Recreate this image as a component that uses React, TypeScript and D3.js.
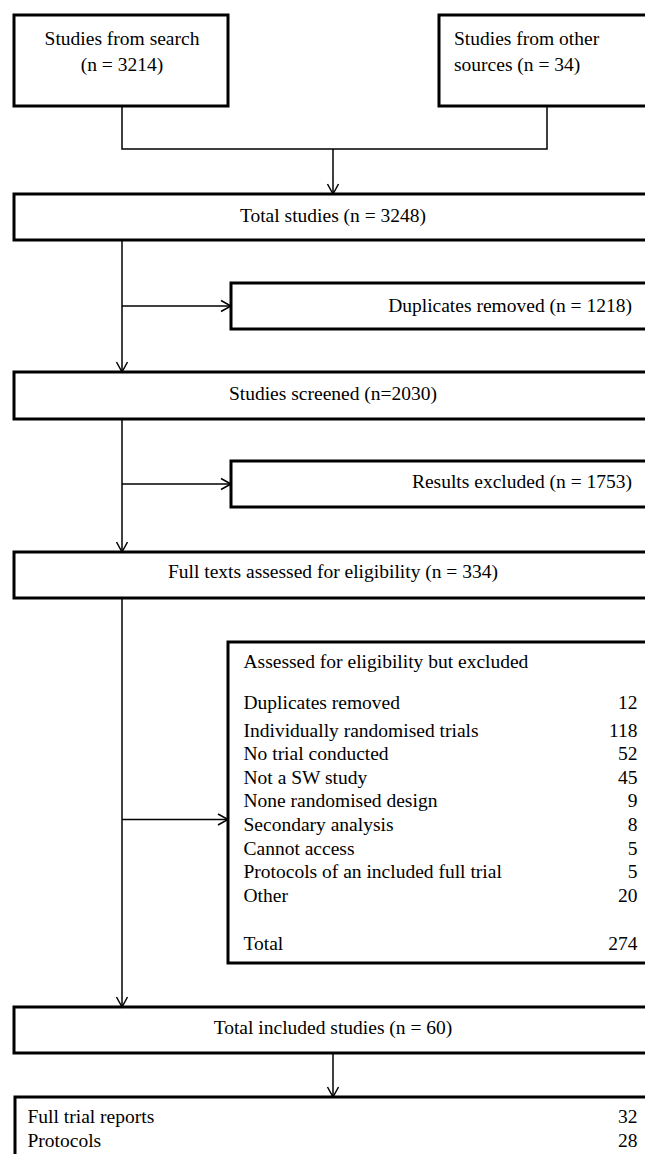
import { scaleLinear, line } from "d3";

// source boxes at the top
const sourceLines = [
  ["Studies from search", "(n = 3214)"],
  ["Studies from other", "sources (n = 34)"],
];

// full-width stage boxes, top to bottom
const stageLabels = [
  "Total studies (n = 3248)",
  "Studies screened (n=2030)",
  "Full texts assessed for eligibility (n = 334)",
  "Total included studies (n = 60)",
];

// side boxes hanging off the spine
const removedLabels = ["Duplicates removed (n = 1218)", "Results excluded (n = 1753)"];

const exclusionTitle = "Assessed for eligibility but excluded";
const exclusionReasons = [
  "Duplicates removed",
  "Individually randomised trials",
  "No trial conducted",
  "Not a SW study",
  "None randomised design",
  "Secondary analysis",
  "Cannot access",
  "Protocols of an included full trial",
  "Other",
];
const exclusionCounts = [12, 118, 52, 45, 9, 8, 5, 5, 20];
const exclusionTotal = 274;

const includedTypes = ["Full trial reports", "Protocols"];
const includedCounts = [32, 28];

const W = 645;
const H = 1154;
const FONT = "'Liberation Serif', 'Times New Roman', serif";
const FS = 19.5;

const BOX_SW = 3;
const LINE_SW = 1.5;
const LEFT = 14;
const RIGHT_OFF = 668; // boxes run past the right edge
const CX = 333;
const SPINE = 122;
const NUM_X = 637.5;

// vertical extents of stage boxes [top, bottom]
const stageY = [
  [194, 240],
  [372, 419],
  [552, 598],
  [1007, 1053],
];
const removedY = [
  [283, 329],
  [461, 507],
];

const lineGen = line<[number, number]>();

function Arrow(props: { pts: [number, number][]; dir: "down" | "right" }) {
  const { pts, dir } = props;
  const [tx, ty] = pts[pts.length - 1];
  const len = 10;
  const hw = 5.5;
  const head: [number, number][] =
    dir === "down"
      ? [[tx - hw, ty - len], [tx, ty], [tx + hw, ty - len]]
      : [[tx - len, ty - hw], [tx, ty], [tx - len, ty + hw]];
  return (
    <g fill="none" stroke="#000" strokeWidth={LINE_SW}>
      <path d={lineGen(pts) || ""} />
      <path d={lineGen(head) || ""} />
    </g>
  );
}

export default function App() {
  // rows inside the exclusion box
  const rowY = scaleLinear().domain([1, 8]).range([736.7, 901.7]);
  const exclRowY = (i: number) => (i === 0 ? 709 : rowY(i));
  const inclRowY = scaleLinear().domain([0, 1]).range([1122.7, 1146.7]);

  const stageBase = [222, 399.5, 577.5, 1033.5];
  const removedBase = [312, 487.5];

  return (
    <svg
      width={W}
      height={H}
      viewBox={`0 0 ${W} ${H}`}
      style={{ position: "absolute", left: 0, top: 0, background: "#fff" }}
      fontFamily={FONT}
      fontSize={FS}
    >
      <rect width={W} height={H} fill="#fff" />

      {/* source boxes */}
      <rect x={LEFT} y={15} width={228 - LEFT} height={91} fill="#fff" stroke="#000" strokeWidth={BOX_SW} />
      <rect x={439} y={15} width={RIGHT_OFF - 439} height={91} fill="#fff" stroke="#000" strokeWidth={BOX_SW} />
      {sourceLines[0].map((t, i) => (
        <text key={"s0" + i} x={122} y={45 + i * 26} textAnchor="middle">{t}</text>
      ))}
      {sourceLines[1].map((t, i) => (
        <text key={"s1" + i} x={454} y={45 + i * 26}>{t}</text>
      ))}

      {/* merge connector */}
      <path
        d={lineGen([[122, 106], [122, 149], [547, 149], [547, 106]]) || ""}
        fill="none"
        stroke="#000"
        strokeWidth={LINE_SW}
      />
      <Arrow pts={[[CX, 149], [CX, stageY[0][0]]]} dir="down" />

      {/* stage boxes */}
      {stageLabels.map((t, i) => (
        <g key={"st" + i}>
          <rect
            x={LEFT}
            y={stageY[i][0]}
            width={RIGHT_OFF - LEFT}
            height={stageY[i][1] - stageY[i][0]}
            fill="#fff"
            stroke="#000"
            strokeWidth={BOX_SW}
          />
          <text x={CX} y={stageBase[i]} textAnchor="middle">{t}</text>
        </g>
      ))}

      {/* spine arrows */}
      <Arrow pts={[[SPINE, stageY[0][1]], [SPINE, stageY[1][0]]]} dir="down" />
      <Arrow pts={[[SPINE, stageY[1][1]], [SPINE, stageY[2][0]]]} dir="down" />
      <Arrow pts={[[SPINE, stageY[2][1]], [SPINE, stageY[3][0]]]} dir="down" />

      {/* side boxes */}
      {removedLabels.map((t, i) => {
        const mid = (removedY[i][0] + removedY[i][1]) / 2;
        return (
          <g key={"rm" + i}>
            <Arrow pts={[[SPINE, mid], [231, mid]]} dir="right" />
            <rect
              x={231}
              y={removedY[i][0]}
              width={RIGHT_OFF - 231}
              height={removedY[i][1] - removedY[i][0]}
              fill="#fff"
              stroke="#000"
              strokeWidth={BOX_SW}
            />
            <text x={632} y={removedBase[i]} textAnchor="end">{t}</text>
          </g>
        );
      })}

      {/* exclusion box */}
      <Arrow pts={[[SPINE, 819.5], [228, 819.5]]} dir="right" />
      <rect x={228} y={642} width={RIGHT_OFF - 228} height={963 - 642} fill="#fff" stroke="#000" strokeWidth={BOX_SW} />
      <text x={243.5} y={667.7}>{exclusionTitle}</text>
      {exclusionReasons.map((r, i) => (
        <g key={"ex" + i}>
          <text x={243.5} y={exclRowY(i)}>{r}</text>
          <text x={NUM_X} y={exclRowY(i)} textAnchor="end">{exclusionCounts[i]}</text>
        </g>
      ))}
      <text x={243.5} y={949.7}>Total</text>
      <text x={NUM_X} y={949.7} textAnchor="end">{exclusionTotal}</text>

      {/* final breakdown */}
      <Arrow pts={[[CX, stageY[3][1]], [CX, 1097]]} dir="down" />
      <rect x={15} y={1097} width={RIGHT_OFF - 15} height={90} fill="#fff" stroke="#000" strokeWidth={BOX_SW} />
      {includedTypes.map((t, i) => (
        <g key={"in" + i}>
          <text x={27.5} y={inclRowY(i)}>{t}</text>
          <text x={NUM_X} y={inclRowY(i)} textAnchor="end">{includedCounts[i]}</text>
        </g>
      ))}
    </svg>
  );
}
